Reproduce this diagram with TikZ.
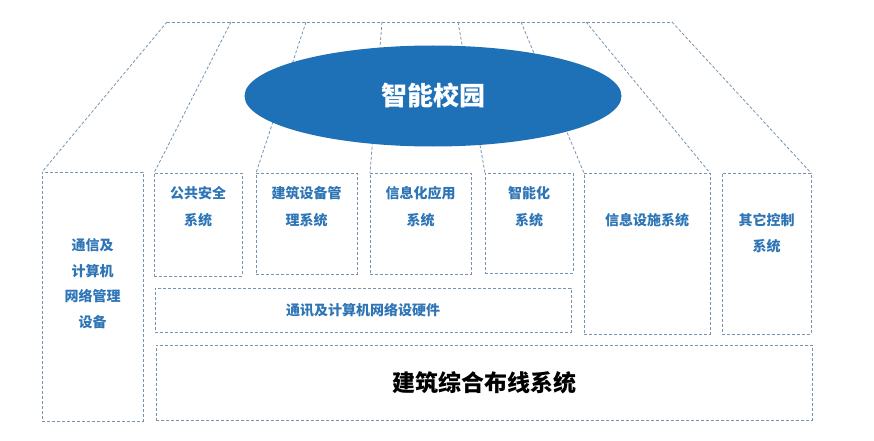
\documentclass[tikz,border=0pt]{standalone}
\usepackage{fontspec}
\setmainfont{Noto Sans CJK SC}
\usetikzlibrary{positioning,shapes.geometric}
\definecolor{frameline}{RGB}{118,148,178}
\definecolor{labelblue}{RGB}{46,117,182}
\definecolor{campusblue}{RGB}{30,112,183}

\begin{document}
\begin{tikzpicture}[
  x=1pt,y=-1pt,
  every node/.style={font=\bfseries},
  frame/.style={draw=frameline,line width=.8pt,dash pattern=on 3pt off 2pt},
  box/.style={frame,rectangle,inner sep=0pt,outer sep=0pt},
  lbl/.style={text=labelblue,align=center,inner sep=0pt,
    font=\bfseries\fontsize{14}{26.5}\selectfont}]
  \path[use as bounding box] (0,0) rectangle (874,441);

  % Boxes of the subsystems.
  \node[box,minimum width=101,minimum height=249] (net) at (92.5,296.5) {};
  \node[box,minimum width=88,minimum height=103] (pub) at (198,224.5) {};
  \node[box,minimum width=101,minimum height=101] (bld) at (306.5,223.5) {};
  \node[box,minimum width=101,minimum height=101] (info) at (420.5,223.5) {};
  \node[box,minimum width=88,minimum height=100] (intel) at (529,223) {};
  \node[box,minimum width=126,minimum height=161] (fac) at (647,253.5) {};
  \node[box,minimum width=89,minimum height=161] (ctrl) at (766.5,253.5) {};
  \node[box,minimum width=416,minimum height=44] (hw) at (363,310) {};
  \node[box,minimum width=656,minimum height=75] (wire) at (484,382.5) {};

  % Roof: top edge and slanted walls.
  \coordinate (t1) at (167,22);
  \coordinate (t2) at (231,22);
  \coordinate (t3) at (306,22);
  \coordinate (t4) at (382,22);
  \coordinate (t5) at (458,22);
  \coordinate (t6) at (521,22);
  \coordinate (t7) at (586,22);
  \coordinate (t8) at (672,22);
  \draw[frame] (t1) -- (t8);
  \draw[frame] (t1) -- (net.north west);
  \draw[frame] (t2) -- (pub.north west);
  \draw[frame] (t3) -- (bld.north west);
  \draw[frame] (t4) -- (info.north west);
  \draw[frame] (t5) -- (intel.north west);
  \draw[frame] (t6) -- (fac.north west);
  \draw[frame] (t7) -- (fac.north east);
  \draw[frame] (t8) -- (ctrl.north east);

  \node[ellipse,fill=campusblue,minimum width=377,minimum height=101,
    inner sep=0pt] (campus) at (433,96) {};
  \node[text=white,font=\bfseries\fontsize{26}{30}\selectfont]
    (campustxt) at (433,95) {智能校园};

  % Labels.
  \node[lbl,font=\bfseries\fontsize{14}{25.7}\selectfont] (nettxt)
    at (92.5,283.5) {通信及\\计算机\\网络管理\\设备};
  \node[lbl] (pubtxt) at (198,206.5) {公共安全\\系统};
  \node[lbl] (bldtxt) at (306.5,206.5) {建筑设备管\\理系统};
  \node[lbl] (infotxt) at (420.5,206.5) {信息化应用\\系统};
  \node[lbl] (inteltxt) at (529,206.5) {智能化\\系统};
  \node[lbl] (factxt) at (647,220) {信息设施系统};
  \node[lbl] (ctrltxt) at (766.5,233) {其它控制\\系统};
  \node[lbl] (hwtxt) at (363,310) {通讯及计算机网络设硬件};
  \node[font=\bfseries\fontsize{23}{26}\selectfont] (wiretxt)
    at (484,383) {建筑综合布线系统};
\end{tikzpicture}
\end{document}
